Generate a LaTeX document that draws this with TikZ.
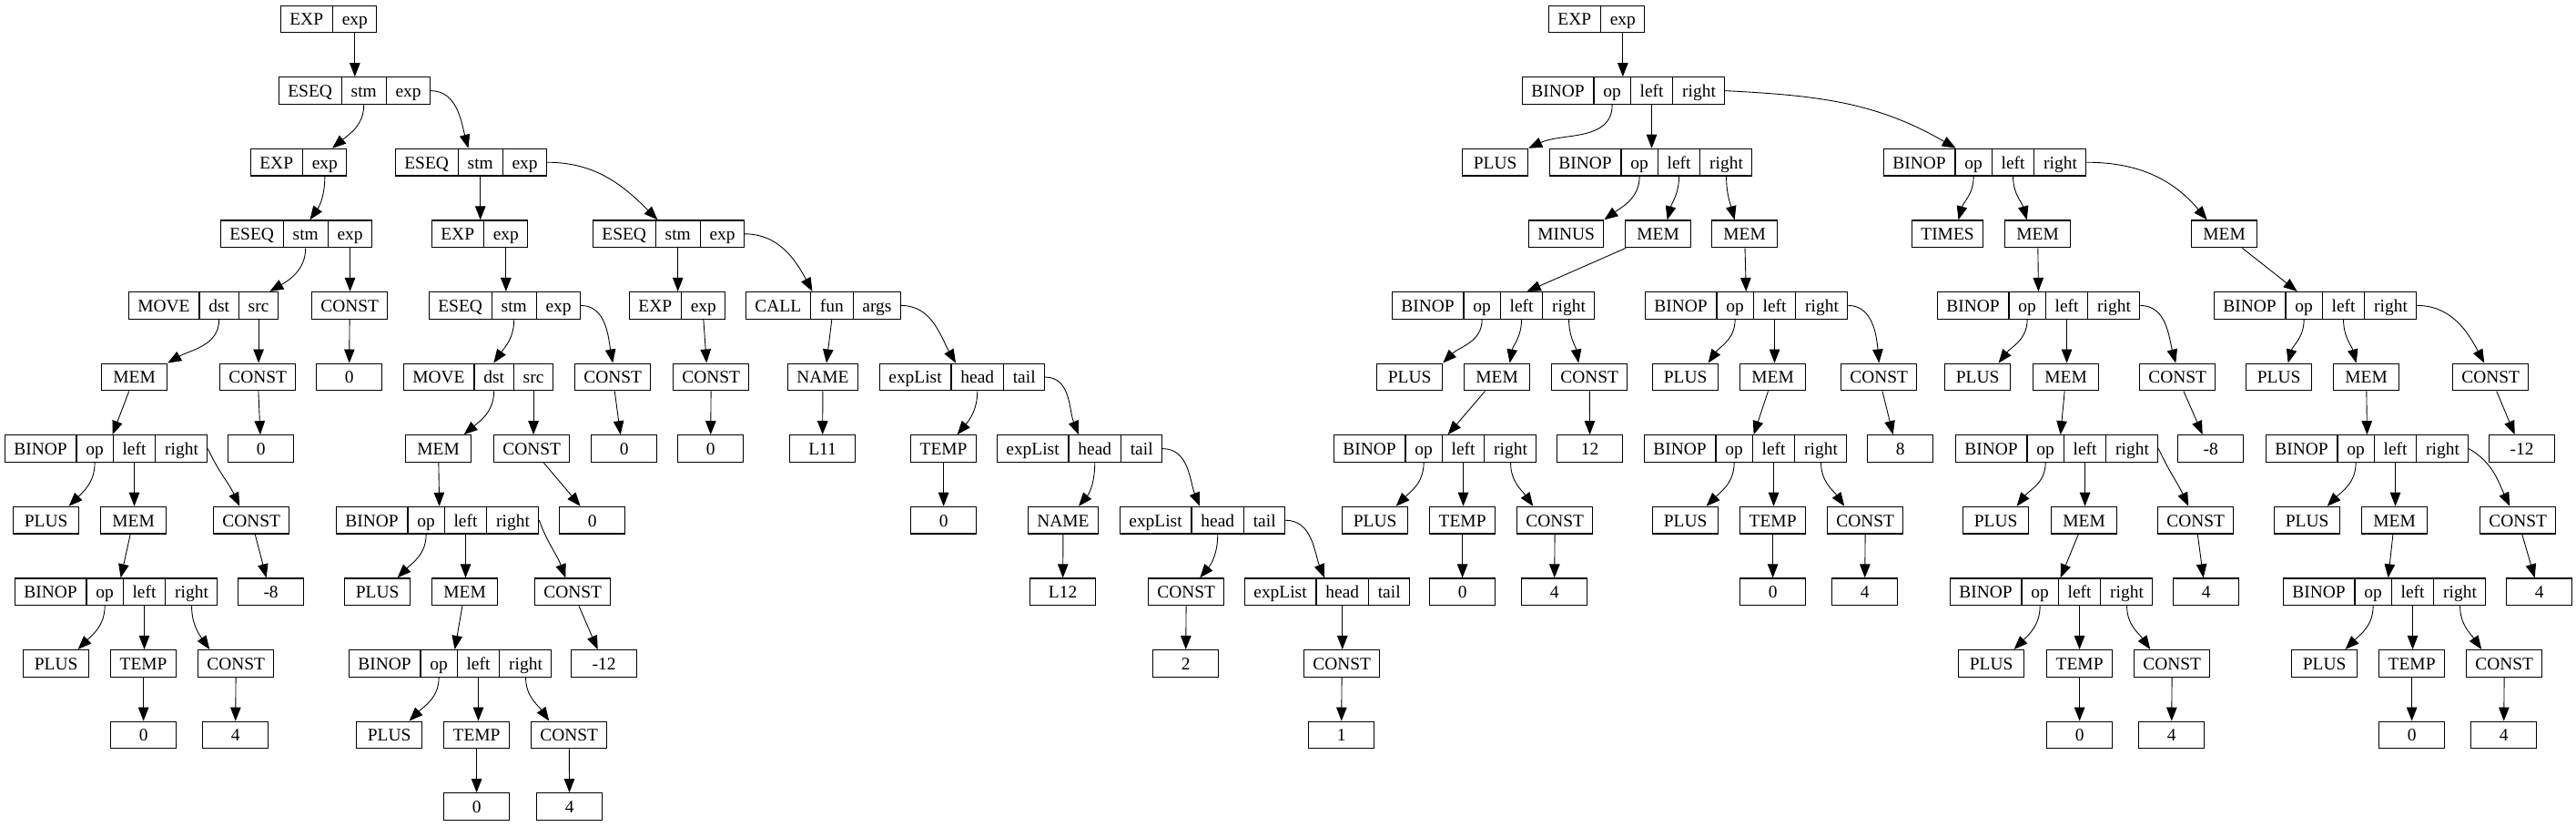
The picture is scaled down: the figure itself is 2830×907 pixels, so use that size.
\documentclass[tikz,border=0pt]{standalone}
\usepackage{fontspec}
\setmainfont{Liberation Serif}
\usetikzlibrary{shapes.multipart,arrows.meta,calc}

\newcommand{\fs}{\rule[-1mm]{0pt}{4.74mm}}
\newcommand{\recEXP}{\fs EXP\nodepart{two}\fs exp}
\newcommand{\recESEQ}{\fs ESEQ\nodepart{two}\fs stm\nodepart{three}\fs exp}
\newcommand{\recMOVE}{\fs MOVE\nodepart{two}\fs dst\nodepart{three}\fs src}
\newcommand{\recCALL}{\fs CALL\nodepart{two}\fs fun\nodepart{three}\fs args}
\newcommand{\recList}{\fs expList\nodepart{two}\fs head\nodepart{three}\fs tail}
\newcommand{\recBINOP}{\fs BINOP\nodepart{two}\fs op\nodepart{three}\fs left\nodepart{four}\fs right}

\begin{document}
\begin{tikzpicture}[
		x=0.2mm, y=-0.2mm,
		font=\fontsize{11.06}{13}\selectfont,
		fieldbox/.style={draw=black, line width=0.7pt, inner xsep=1.95mm, inner ysep=0.6mm, anchor=west},
		leaf/.style={fieldbox, minimum width=14.4mm, text height=3.74mm, text depth=1mm},
		rec/.style={fieldbox, rectangle split, rectangle split horizontal, rectangle split parts=#1},
		ptr/.style={-{Triangle[length=3mm,width=2.3mm]}, line width=0.5pt},
	]
	\useasboundingbox (0,0) rectangle (2830,907);

	%Nodes, left tree
	\node[rec=2] (e1) at (308,21) {\recEXP};
	\node[rec=3] (s2) at (306,99.6) {\recESEQ};
	\node[rec=2] (e3) at (275,178.2) {\recEXP};
	\node[rec=3] (s3) at (434,178.2) {\recESEQ};
	\node[rec=3] (s4a) at (242,256.8) {\recESEQ};
	\node[rec=2] (e4) at (474,256.8) {\recEXP};
	\node[rec=3] (s4b) at (651,256.8) {\recESEQ};
	\node[rec=3] (mv5) at (141,335.4) {\recMOVE};
	\node[leaf] (c5a) at (342,335.4) {CONST};
	\node[rec=3] (s5) at (471,335.4) {\recESEQ};
	\node[rec=2] (e5) at (691,335.4) {\recEXP};
	\node[rec=3] (call5) at (819,335.4) {\recCALL};
	\node[leaf] (mem6a) at (111,414) {MEM};
	\node[leaf] (c6a) at (241,414) {CONST};
	\node[leaf] (z6a) at (347,414) {0};
	\node[rec=3] (mv6) at (443,414) {\recMOVE};
	\node[leaf] (c6b) at (631,414) {CONST};
	\node[leaf] (c6c) at (739,414) {CONST};
	\node[leaf] (nm6) at (865,414) {NAME};
	\node[rec=3] (el6) at (966,414) {\recList};
	\node[rec=4] (b7a) at (5,492.6) {\recBINOP};
	\node[leaf] (z7a) at (250,492.6) {0};
	\node[leaf] (mem7) at (445,492.6) {MEM};
	\node[leaf] (c7) at (542,492.6) {CONST};
	\node[leaf] (z7b) at (649,492.6) {0};
	\node[leaf] (z7c) at (744,492.6) {0};
	\node[leaf] (l11) at (867,492.6) {L11};
	\node[leaf] (t7) at (1000,492.6) {TEMP};
	\node[rec=3] (el7) at (1095,492.6) {\recList};
	\node[leaf] (p8a) at (14,571.2) {PLUS};
	\node[leaf] (mem8a) at (110,571.2) {MEM};
	\node[leaf] (c8a) at (234,571.2) {CONST};
	\node[rec=4] (b8) at (369,571.2) {\recBINOP};
	\node[leaf] (z8a) at (614,571.2) {0};
	\node[leaf] (z8b) at (1000,571.2) {0};
	\node[leaf] (nm8) at (1129,571.2) {NAME};
	\node[rec=3] (el8) at (1230,571.2) {\recList};
	\node[rec=4] (b9a) at (16,649.8) {\recBINOP};
	\node[leaf] (m8) at (261,649.8) {-8};
	\node[leaf] (p9) at (378,649.8) {PLUS};
	\node[leaf] (mem9) at (474,649.8) {MEM};
	\node[leaf] (c9) at (587,649.8) {CONST};
	\node[leaf] (l12) at (1131,649.8) {L12};
	\node[leaf] (c9b) at (1261,649.8) {CONST};
	\node[rec=3] (el9) at (1367,649.8) {\recList};
	\node[leaf] (p10a) at (25,728.4) {PLUS};
	\node[leaf] (t10a) at (121,728.4) {TEMP};
	\node[leaf] (c10a) at (217,728.4) {CONST};
	\node[rec=4] (b10) at (383,728.4) {\recBINOP};
	\node[leaf] (m12) at (627,728.4) {-12};
	\node[leaf] (two) at (1266,728.4) {2};
	\node[leaf] (c10b) at (1432,728.4) {CONST};
	\node[leaf] (z11a) at (121,807) {0};
	\node[leaf] (f11a) at (222,807) {4};
	\node[leaf] (p11) at (391,807) {PLUS};
	\node[leaf] (t11) at (487,807) {TEMP};
	\node[leaf] (c11) at (583,807) {CONST};
	\node[leaf] (one) at (1437,807) {1};
	\node[leaf] (z12) at (487,885.6) {0};
	\node[leaf] (f12) at (589,885.6) {4};

	%Nodes, right tree
	\node[rec=2] (re1) at (1701,21) {\recEXP};
	\node[rec=4] (rb2) at (1672,99.6) {\recBINOP};
	\node[leaf] (rp3) at (1606,178.2) {PLUS};
	\node[rec=4] (rb3a) at (1702,178.2) {\recBINOP};
	\node[rec=4] (rb3b) at (2069,178.2) {\recBINOP};
	\node[leaf] (rmi4) at (1679,256.8) {MINUS};
	\node[leaf] (rm4a) at (1785,256.8) {MEM};
	\node[leaf] (rm4b) at (1880,256.8) {MEM};
	\node[leaf] (rti4) at (2100,256.8) {TIMES};
	\node[leaf] (rm4c) at (2202,256.8) {MEM};
	\node[leaf] (rm4d) at (2407,256.8) {MEM};
	\node[rec=4] (rb5a) at (1529,335.4) {\recBINOP};
	\node[rec=4] (rb5b) at (1807,335.4) {\recBINOP};
	\node[rec=4] (rb5c) at (2128,335.4) {\recBINOP};
	\node[rec=4] (rb5d) at (2432,335.4) {\recBINOP};
	\node[leaf] (rp6a) at (1512,414) {PLUS};
	\node[leaf] (rm6a) at (1608,414) {MEM};
	\node[leaf] (rc6a) at (1704,414) {CONST};
	\node[leaf] (rp6b) at (1815,414) {PLUS};
	\node[leaf] (rm6b) at (1911,414) {MEM};
	\node[leaf] (rc6b) at (2022,414) {CONST};
	\node[leaf] (rp6c) at (2136,414) {PLUS};
	\node[leaf] (rm6c) at (2233,414) {MEM};
	\node[leaf] (rc6c) at (2350,414) {CONST};
	\node[leaf] (rp6d) at (2467,414) {PLUS};
	\node[leaf] (rm6d) at (2563,414) {MEM};
	\node[leaf] (rc6d) at (2694,414) {CONST};
	\node[rec=4] (rb7a) at (1465,492.6) {\recBINOP};
	\node[leaf] (r12) at (1710,492.6) {12};
	\node[rec=4] (rb7b) at (1806,492.6) {\recBINOP};
	\node[leaf] (r8) at (2051,492.6) {8};
	\node[rec=4] (rb7c) at (2148,492.6) {\recBINOP};
	\node[leaf] (rm8) at (2392,492.6) {-8};
	\node[rec=4] (rb7d) at (2489,492.6) {\recBINOP};
	\node[leaf] (rm12) at (2734,492.6) {-12};
	\node[leaf] (rp8a) at (1474,571.2) {PLUS};
	\node[leaf] (rt8a) at (1570,571.2) {TEMP};
	\node[leaf] (rc8a) at (1666,571.2) {CONST};
	\node[leaf] (rp8b) at (1815,571.2) {PLUS};
	\node[leaf] (rt8b) at (1911,571.2) {TEMP};
	\node[leaf] (rc8b) at (2007,571.2) {CONST};
	\node[leaf] (rp8c) at (2156,571.2) {PLUS};
	\node[leaf] (rmm8c) at (2253,571.2) {MEM};
	\node[leaf] (rc8c) at (2370,571.2) {CONST};
	\node[leaf] (rp8d) at (2498,571.2) {PLUS};
	\node[leaf] (rmm8d) at (2594,571.2) {MEM};
	\node[leaf] (rc8d) at (2724,571.2) {CONST};
	\node[leaf] (rz9a) at (1570,649.8) {0};
	\node[leaf] (rf9a) at (1671,649.8) {4};
	\node[leaf] (rz9b) at (1911,649.8) {0};
	\node[leaf] (rf9b) at (2012,649.8) {4};
	\node[rec=4] (rb9c) at (2142,649.8) {\recBINOP};
	\node[leaf] (rf9c) at (2387,649.8) {4};
	\node[rec=4] (rb9d) at (2508,649.8) {\recBINOP};
	\node[leaf] (rf9d) at (2753,649.8) {4};
	\node[leaf] (rp10c) at (2151,728.4) {PLUS};
	\node[leaf] (rt10c) at (2248,728.4) {TEMP};
	\node[leaf] (rc10c) at (2344,728.4) {CONST};
	\node[leaf] (rp10d) at (2517,728.4) {PLUS};
	\node[leaf] (rt10d) at (2613,728.4) {TEMP};
	\node[leaf] (rc10d) at (2709,728.4) {CONST};
	\node[leaf] (rz11c) at (2248,807) {0};
	\node[leaf] (rf11c) at (2349,807) {4};
	\node[leaf] (rz11d) at (2613,807) {0};
	\node[leaf] (rf11d) at (2714,807) {4};

	%Lines, left tree
	\draw[ptr] (e1.two south) -- (e1.two south |- s2.north);
	\draw[ptr] (s2.two south) to[out=-90,in=40] ($(e3.north)+(37,0)$);
	\draw[ptr] (s2.east) to[out=0,in=105] ($(s3.north)+(-3,0)$);
	\draw[ptr] (e3.two south) to[out=-90,in=55] ($(s4a.north)+(15,0)$);
	\draw[ptr] (s3.two south) -- (s3.two south |- e4.north);
	\draw[ptr] (s3.east) to[out=0,in=135] ($(s4b.north)+(-12,0)$);
	\draw[ptr] (s4a.two south) to[out=-90,in=30] ($(mv5.north)+(73,0)$);
	\draw[ptr] (s4a.three south) -- (s4a.three south |- c5a.north);
	\draw[ptr] (e4.two south) -- (e4.two south |- s5.north);
	\draw[ptr] (s4b.two south) -- (s4b.two south |- e5.north);
	\draw[ptr] (s4b.east) to[out=0,in=118] ($(call5.north)+(-12,0)$);
	\draw[ptr] (mv5.two south) to[out=-90,in=30] (mem6a.north east);
	\draw[ptr] (mv5.three south) -- (mv5.three south |- c6a.north);
	\draw[ptr] (c5a) -- (z6a);
	\draw[ptr] (s5.two south) to[out=-90,in=55] ($(mv6.north)+(17,0)$);
	\draw[ptr] (s5.east) to[out=0,in=100] (c6b.north);
	\draw[ptr] (e5.two south) -- ($(c6c.north)+(-5,0)$);
	\draw[ptr] (call5.two south) -- ($(nm6.north)+(4,0)$);
	\draw[ptr] (call5.east) to[out=0,in=120] ($(el6.north)+(-7,0)$);
	\draw[ptr] (mem6a) -- ($(b7a.north)+(7,0)$);
	\draw[ptr] (c6a) -- (z7a);
	\draw[ptr] (mv6.two south) to[out=-90,in=40] ($(mem7.north)+(28,0)$);
	\draw[ptr] (mv6.three south) -- (mv6.three south |- c7.north);
	\draw[ptr] (c6b) -- ($(z7b.north)+(-4,0)$);
	\draw[ptr] (c6c) -- (z7c);
	\draw[ptr] (nm6) -- (l11);
	\draw[ptr] (el6.two south) to[out=-90,in=50] ($(t7.north)+(15,0)$);
	\draw[ptr] (el6.east) to[out=0,in=112] ($(el7.north)+(-1,0)$);
	\draw[ptr] (b7a.two south) to[out=-90,in=45] ($(p8a.north)+(25,0)$);
	\draw[ptr] (b7a.three south) -- (b7a.three south |- mem8a.north);
	\draw[ptr] (b7a.east) to[out=-65,in=115] ($(c8a.north)+(-13,0)$);
	\draw[ptr] (mem7) -- ($(b8.north)+(2,0)$);
	\draw[ptr] (c7) -- ($(z8a.north)+(-13,0)$);
	\draw[ptr] (t7) -- (z8b);
	\draw[ptr] (el7.two south) to[out=-90,in=50] ($(nm8.north)+(17,0)$);
	\draw[ptr] (el7.east) to[out=0,in=112] ($(el8.north)+(-3,0)$);
	\draw[ptr] (mem8a) -- ($(b9a.north)+(5,0)$);
	\draw[ptr] (c8a) -- ($(m8.north)+(-5,0)$);
	\draw[ptr] (b8.two south) to[out=-90,in=45] ($(p9.north)+(22,0)$);
	\draw[ptr] (b8.three south) -- (b8.three south |- mem9.north);
	\draw[ptr] (b8.east) to[out=-70,in=110] ($(c9.north)+(-8,0)$);
	\draw[ptr] (nm8) -- (l12);
	\draw[ptr] (el8.two south) to[out=-90,in=50] ($(c9b.north)+(15,0)$);
	\draw[ptr] (el8.east) to[out=0,in=112] ($(el9.north)+(-3,0)$);
	\draw[ptr] (b9a.two south) to[out=-90,in=45] ($(p10a.north)+(24,0)$);
	\draw[ptr] (b9a.three south) -- (b9a.three south |- t10a.north);
	\draw[ptr] (b9a.four south) to[out=-90,in=125] ($(c10a.north)+(-29,0)$);
	\draw[ptr] (mem9) -- ($(b10.north)+(5,0)$);
	\draw[ptr] (c9) -- ($(m12.north)+(-7,0)$);
	\draw[ptr] (c9b) -- (two);
	\draw[ptr] (el9.two south) -- (el9.two south |- c10b.north);
	\draw[ptr] (t10a) -- (z11a);
	\draw[ptr] (c10a) -- (f11a);
	\draw[ptr] (b10.two south) to[out=-90,in=45] ($(p11.north)+(22,0)$);
	\draw[ptr] (b10.three south) -- (b10.three south |- t11.north);
	\draw[ptr] (b10.four south) to[out=-90,in=125] ($(c11.north)+(-22,0)$);
	\draw[ptr] (c10b) -- (one);
	\draw[ptr] (t11) -- (z12);
	\draw[ptr] (c11) -- (f12);

	%Lines, right tree
	\draw[ptr] (re1.two south) -- (re1.two south |- rb2.north);
	\draw[ptr] (rb2.two south) to[out=-90,in=25] (rp3.north east);
	\draw[ptr] (rb2.three south) -- (rb2.three south |- rb3a.north);
	\draw[ptr] (rb2.east) to[out=-3,in=150] ($(rb3b.north)+(-32,0)$);
	\draw[ptr] (rb3a.two south) to[out=-90,in=36] (rmi4.north east);
	\draw[ptr] (rb3a.three south) to[out=-90,in=75] ($(rm4a.north)+(10,0)$);
	\draw[ptr] (rb3a.four south) to[out=-90,in=105] ($(rm4b.north)+(-11,0)$);
	\draw[ptr] (rb3b.two south) to[out=-90,in=75] ($(rti4.north)+(12,0)$);
	\draw[ptr] (rb3b.three south) to[out=-90,in=105] ($(rm4c.north)+(-12,0)$);
	\draw[ptr] (rb3b.east) to[out=0,in=130] ($(rm4d.north)+(-19,0)$);
	\draw[ptr] (rm4a) -- ($(rb5a.north)+(37,0)$);
	\draw[ptr] (rm4b) -- (rb5b);
	\draw[ptr] (rm4c) -- (rb5c);
	\draw[ptr] (rm4d) -- ($(rb5d.north)+(-20,0)$);
	\draw[ptr] (rb5a.two south) to[out=-90,in=45] (rp6a.north east);
	\draw[ptr] (rb5a.three south) to[out=-90,in=80] ($(rm6a.north)+(14,0)$);
	\draw[ptr] (rb5a.four south) to[out=-90,in=100] ($(rc6a.north)+(-12,0)$);
	\draw[ptr] (rb5b.two south) to[out=-90,in=55] ($(rp6b.north)+(25,0)$);
	\draw[ptr] (rb5b.three south) -- (rb5b.three south |- rm6b.north);
	\draw[ptr] (rb5b.east) to[out=0,in=95] (rc6b.north);
	\draw[ptr] (rb5c.two south) to[out=-90,in=52] ($(rp6c.north)+(23,0)$);
	\draw[ptr] (rb5c.three south) -- (rb5c.three south |- rm6c.north);
	\draw[ptr] (rb5c.east) to[out=0,in=105] ($(rc6c.north)+(-2,0)$);
	\draw[ptr] (rb5d.two south) to[out=-90,in=75] ($(rp6d.north)+(10,0)$);
	\draw[ptr] (rb5d.three south) to[out=-90,in=105] ($(rm6d.north)+(-11,0)$);
	\draw[ptr] (rb5d.east) to[out=0,in=118] ($(rc6d.north)+(-7,0)$);
	\draw[ptr] (rm6a) -- ($(rb7a.north)+(14,0)$);
	\draw[ptr] (rc6a) -- (r12);
	\draw[ptr] (rm6b) -- ($(rb7b.north)+(9,0)$);
	\draw[ptr] (rc6b) -- ($(r8.north)+(-8,0)$);
	\draw[ptr] (rm6c) -- ($(rb7c.north)+(4,0)$);
	\draw[ptr] (rc6c) -- ($(rm8.north)+(-9,0)$);
	\draw[ptr] (rm6d) -- (rb7d);
	\draw[ptr] (rc6d) -- ($(rm12.north)+(-8,0)$);
	\draw[ptr] (rb7a.two south) to[out=-90,in=45] ($(rp8a.north)+(23,0)$);
	\draw[ptr] (rb7a.three south) -- (rb7a.three south |- rt8a.north);
	\draw[ptr] (rb7a.four south) to[out=-90,in=125] ($(rc8a.north)+(-24,0)$);
	\draw[ptr] (rb7b.two south) to[out=-90,in=45] ($(rp8b.north)+(23,0)$);
	\draw[ptr] (rb7b.three south) -- (rb7b.three south |- rt8b.north);
	\draw[ptr] (rb7b.four south) to[out=-90,in=125] ($(rc8b.north)+(-23,0)$);
	\draw[ptr] (rb7c.two south) to[out=-90,in=52] ($(rp8c.north)+(23,0)$);
	\draw[ptr] (rb7c.three south) -- (rb7c.three south |- rmm8c.north);
	\draw[ptr] (rb7c.east) to[out=-65,in=115] ($(rc8c.north)+(-8,0)$);
	\draw[ptr] (rb7d.two south) to[out=-90,in=45] ($(rp8d.north)+(22,0)$);
	\draw[ptr] (rb7d.three south) -- (rb7d.three south |- rmm8d.north);
	\draw[ptr] (rb7d.east) to[out=-30,in=115] ($(rc8d.north)+(-9,0)$);
	\draw[ptr] (rt8a) -- (rz9a);
	\draw[ptr] (rc8a) -- (rf9a);
	\draw[ptr] (rt8b) -- (rz9b);
	\draw[ptr] (rc8b) -- (rf9b);
	\draw[ptr] (rmm8c) -- ($(rb9c.north)+(10,0)$);
	\draw[ptr] (rc8c) -- ($(rf9c.north)+(-3,0)$);
	\draw[ptr] (rmm8d) -- ($(rb9d.north)+(4,0)$);
	\draw[ptr] (rc8d) -- ($(rf9d.north)+(-5,0)$);
	\draw[ptr] (rb9c.two south) to[out=-90,in=45] ($(rp10c.north)+(25,0)$);
	\draw[ptr] (rb9c.three south) -- (rb9c.three south |- rt10c.north);
	\draw[ptr] (rb9c.four south) to[out=-90,in=125] ($(rc10c.north)+(-24,0)$);
	\draw[ptr] (rb9d.two south) to[out=-90,in=45] ($(rp10d.north)+(23,0)$);
	\draw[ptr] (rb9d.three south) -- (rb9d.three south |- rt10d.north);
	\draw[ptr] (rb9d.four south) to[out=-90,in=125] ($(rc10d.north)+(-25,0)$);
	\draw[ptr] (rt10c) -- (rz11c);
	\draw[ptr] (rc10c) -- (rf11c);
	\draw[ptr] (rt10d) -- (rz11d);
	\draw[ptr] (rc10d) -- (rf11d);

\end{tikzpicture}
\end{document}
